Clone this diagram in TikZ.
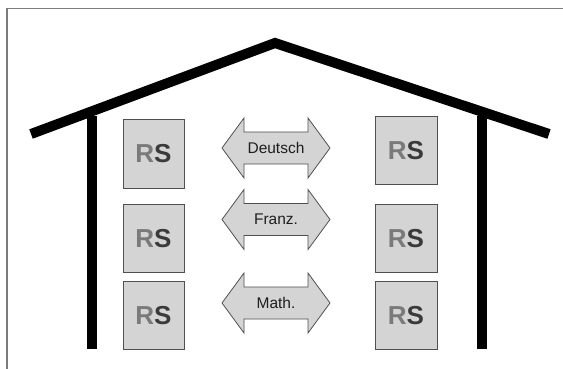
\documentclass[tikz,border=0pt]{standalone}
\usepackage{fontspec}
\setmainfont{Liberation Sans}
\definecolor{boxfill}{HTML}{D4D4D4}
\definecolor{boxline}{HTML}{505050}
\definecolor{rsR}{HTML}{7A7A7A}
\definecolor{rsS}{HTML}{3A3A3A}
\definecolor{lbltext}{HTML}{1E1E1E}
\definecolor{framecol}{HTML}{7C7C7C}
\newcommand\rstext{\textcolor{rsR}{R}\textcolor{rsS}{S}}
\newcommand\dblarr[3]{%
  \coordinate (#1c) at (#2);
  \draw[dbl] ([shift={(-54,0)}]#1c) -- ([shift={(-32,-30)}]#1c) -- ([shift={(-32,-16)}]#1c)
    -- ([shift={(32,-16)}]#1c) -- ([shift={(32,-30)}]#1c) -- ([shift={(54,0)}]#1c)
    -- ([shift={(32,30)}]#1c) -- ([shift={(32,16)}]#1c) -- ([shift={(-32,16)}]#1c)
    -- ([shift={(-32,30)}]#1c) -- cycle;
  \node[lbl] (#1) at (#1c) {#3};%
}
\begin{document}
\begin{tikzpicture}[x=1pt,y=-1pt,
  box/.style={draw=boxline,fill=boxfill,line width=1pt,minimum width=61pt,minimum height=68pt,inner sep=0pt,font=\fontsize{26}{26}\selectfont\bfseries},
  lbl/.style={font=\fontsize{15.5}{16}\selectfont,text=lbltext,inner sep=0pt},
  dbl/.style={draw=boxline,fill=boxfill,line width=0.8pt,line join=miter},
  wall/.style={line width=10pt,line cap=butt,line join=miter},
  framestyle/.style={draw=framecol,line width=1.2pt}]
\useasboundingbox (0,0) rectangle (563,369);
\draw[framestyle] (7,369) -- (7,8.5) -- (563,8.5);
% roof
\coordinate (roofL) at (31,134);
\coordinate (apex) at (275,43);
\coordinate (roofR) at (549,134);
\draw[wall] (roofL) -- (apex) -- (roofR);
% walls
\coordinate (poleLtop) at (92,116);
\coordinate (poleLbot) at (92,349);
\coordinate (poleRtop) at (482,116);
\coordinate (poleRbot) at (482,349);
\draw[wall] (poleLtop) -- (poleLbot);
\draw[wall] (poleRtop) -- (poleRbot);
% boxes
\node[box] (l1) at (153.5,154) {\rstext};
\node[box] (l2) at (153.5,238.5) {\rstext};
\node[box] (l3) at (153.5,315.5) {\rstext};
\node[box,minimum width=62pt] (r1) at (406,150.5) {\rstext};
\node[box,minimum width=62pt] (r2) at (406,238.5) {\rstext};
\node[box,minimum width=62pt] (r3) at (406,315.5) {\rstext};
% arrows
\dblarr{deutsch}{276,148}{Deutsch}
\dblarr{franz}{276,219.5}{Franz.}
\dblarr{math}{276,303}{Math.}
\end{tikzpicture}
\end{document}
